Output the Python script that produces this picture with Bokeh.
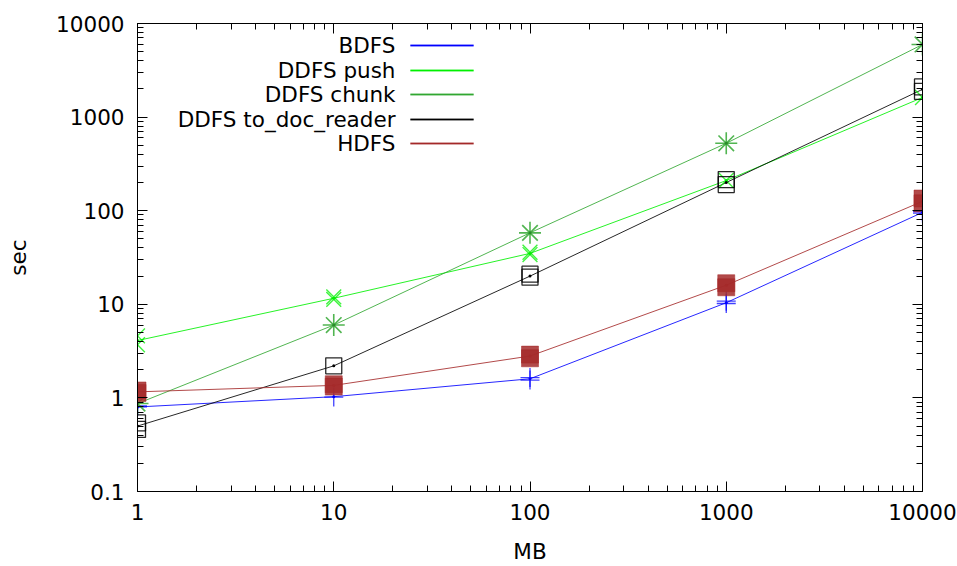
from bokeh.plotting import figure
from bokeh.models import (LogAxis, FixedTicker, CustomJSTickFormatter, Label,
                          BoxAnnotation, Range1d)
from bokeh.embed import file_html
from bokeh.resources import INLINE

# ---- data ----
sizes_mb = [1, 10, 100, 1000, 10000]
bdfs_sec = [0.80, 1.03, 1.60, 10.4, 96]
ddfs_push_sec = [4.1, 11.6, 35, 210, 1620]
ddfs_chunk_sec = [0.87, 6.0, 58, 525, 5970]
ddfs_doc_sec = [0.50, 2.2, 20, 200, 1980]
hdfs_sec = [1.16, 1.36, 2.8, 16, 126]

bdfs_trial_mb = [1, 1, 10, 100, 100, 1000, 1000, 10000, 10000]
bdfs_trial_sec = [0.80, 0.82, 1.02, 1.55, 1.65, 10.2, 10.8, 94, 98]
push_trial_mb = [1, 1, 10, 10, 100, 100, 1000, 10000]
push_trial_sec = [3.7, 4.6, 11.3, 12.0, 34, 36, 210, 1620]
chunk_trial_mb = [1, 10, 100, 1000, 10000]
chunk_trial_sec = [0.87, 6.0, 58, 525, 5970]
doc_trial_mb = [1, 1, 10, 100, 100, 1000, 1000, 10000, 10000]
doc_trial_sec = [0.54, 0.46, 2.2, 21, 19.5, 215, 190, 2100, 1880]
hdfs_trial_mb = [1, 1, 10, 10, 100, 100, 1000, 1000, 10000, 10000]
hdfs_trial_sec = [1.2, 1.13, 1.4, 1.32, 2.9, 2.65, 16.8, 15.2, 135, 120]

series_names = ["BDFS", "DDFS push", "DDFS chunk", "DDFS to_doc_reader", "HDFS"]
x_ticks = [1, 10, 100, 1000, 10000]
y_ticks = [0.1, 1, 10, 100, 1000, 10000]

FONT = "DejaVu Sans"
FS = "21.5px"

p = figure(width=957, height=566, x_axis_type="log", y_axis_type="log",
           x_range=Range1d(1, 10000), y_range=Range1d(0.1, 10000),
           output_backend="svg", toolbar_location=None,
           min_border_left=137, min_border_right=35, min_border_top=23,
           min_border_bottom=74)
p.xgrid.visible = False
p.ygrid.visible = False
p.outline_line_color = "black"
p.outline_line_width = 1
p.background_fill_color = "white"
p.border_fill_color = "white"

x_minor = [m * d for d in [1, 10, 100, 1000] for m in range(2, 10)]
y_minor = [m * d for d in [0.1, 1, 10, 100, 1000] for m in range(2, 10)]
fmt = CustomJSTickFormatter(code="return (Math.round(tick*10)/10).toString();")


def style_axis(ax, labels=True):
    ax.major_tick_in = 10
    ax.major_tick_out = 0
    ax.minor_tick_in = 6
    ax.minor_tick_out = 0
    ax.axis_line_color = "black"
    ax.major_tick_line_color = "black"
    ax.minor_tick_line_color = "black"
    ax.major_label_text_font = FONT
    ax.major_label_text_font_size = FS if labels else "2px"
    ax.major_label_text_color = "black"
    if not labels:
        ax.major_label_text_alpha = 0
    ax.axis_label_text_font = FONT
    ax.axis_label_text_font_size = FS
    ax.axis_label_text_font_style = "normal"
    ax.axis_label_text_color = "black"


xa = p.xaxis[0]
ya = p.yaxis[0]
xa.ticker = FixedTicker(ticks=x_ticks, minor_ticks=x_minor)
ya.ticker = FixedTicker(ticks=y_ticks, minor_ticks=y_minor)
xa.formatter = fmt
ya.formatter = fmt
style_axis(xa)
style_axis(ya)
xa.axis_label = "MB"
ya.axis_label = "sec"
xa.major_label_standoff = 12
xa.axis_label_standoff = 16
ya.major_label_standoff = 13
ya.axis_label_standoff = 22

top = LogAxis(ticker=FixedTicker(ticks=x_ticks, minor_ticks=x_minor))
right = LogAxis(ticker=FixedTicker(ticks=y_ticks, minor_ticks=y_minor))
for ax in (top, right):
    style_axis(ax, labels=False)
    ax.major_label_standoff = 0
p.add_layout(top, "above")
p.add_layout(right, "right")

colors = {
    "BDFS": "#0000ff",
    "DDFS push": "#00f000",
    "DDFS chunk": "#33a833",
    "DDFS to_doc_reader": "#000000",
    "HDFS": "#a52a2a",
}

# lines through means
means = [bdfs_sec, ddfs_push_sec, ddfs_chunk_sec, ddfs_doc_sec, hdfs_sec]
for name, m in zip(series_names, means):
    p.line(sizes_mb, m, line_color=colors[name], line_width=1, line_alpha=0.85)

# trial markers
p.scatter(bdfs_trial_mb, bdfs_trial_sec, marker="cross", size=19,
          line_color=colors["BDFS"], line_width=1.3, line_alpha=0.75)
p.scatter(push_trial_mb, push_trial_sec, marker="x", size=21,
          line_color=colors["DDFS push"], line_width=1.4, line_alpha=0.75)
p.scatter(chunk_trial_mb, chunk_trial_sec, marker="asterisk", size=22,
          line_color=colors["DDFS chunk"], line_width=1.6, line_alpha=0.85)
p.scatter(doc_trial_mb, doc_trial_sec, marker="square", size=16,
          line_color=colors["DDFS to_doc_reader"], fill_alpha=0,
          line_width=1.3, line_alpha=0.85)
p.scatter(hdfs_trial_mb, hdfs_trial_sec, marker="square", size=17,
          line_color=colors["HDFS"], fill_color=colors["HDFS"],
          fill_alpha=0.85, line_alpha=0.5)

# mean dots
for name, m in zip(series_names, means):
    p.scatter(sizes_mb, m, marker="circle", size=3, line_width=0,
              fill_color=colors[name] if name != "DDFS chunk" else "#2a8a2a")

# manual gnuplot-style legend (text right-aligned, sample line to the right)
row_y = [446, 421, 397, 372, 348]
for name, yy in zip(series_names, row_y):
    p.add_layout(Label(x=258, y=yy, x_units="screen", y_units="screen",
                       text=name, text_align="right", text_baseline="middle",
                       text_font=FONT, text_font_size=FS, text_color="black"))
    p.add_layout(BoxAnnotation(left=273, right=336, bottom=yy - 0.7, top=yy + 0.7,
                               left_units="screen", right_units="screen",
                               bottom_units="screen", top_units="screen",
                               fill_color=colors[name], fill_alpha=1.0,
                               line_color=colors[name], line_width=0.5,
                               line_alpha=0.6))

open("out.html", "w").write(file_html(p, INLINE))
